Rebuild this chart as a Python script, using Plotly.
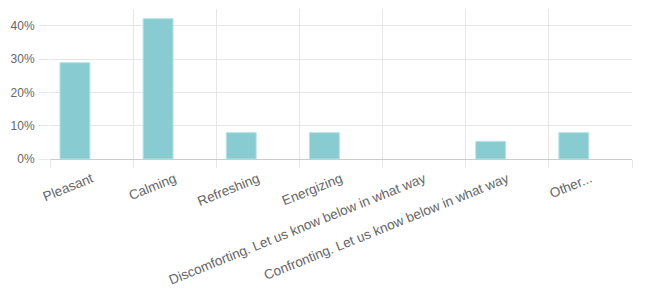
import plotly.graph_objects as go

categories = [
    "Pleasant",
    "Calming",
    "Refreshing",
    "Energizing",
    "Discomforting. Let us know below in what way",
    "Confronting. Let us know below in what way",
    "Other...",
]
values = [0.289, 0.421, 0.079, 0.079, 0.0, 0.053, 0.079]
y_ticks = [0, 0.1, 0.2, 0.3, 0.4]
y_tick_labels = ["0%", "10%", "20%", "30%", "40%"]

fig = go.Figure()
fig.add_trace(go.Bar(
    x=categories,
    y=values,
    width=0.36,
    offset=-0.38,
    marker=dict(
        color="#88ccd1",
        line=dict(color="#b8e3e6", width=[1 if v > 0 else 0 for v in values]),
    ),
    hoverinfo="x+y",
))

fig.update_layout(
    width=645,
    height=305,
    margin=dict(l=50, r=13, t=9, b=146, autoexpand=False),
    paper_bgcolor="white",
    plot_bgcolor="white",
    showlegend=False,
    font=dict(family="Liberation Sans, Arial, sans-serif", size=12, color="#666666"),
    xaxis=dict(
        type="category",
        range=[-0.5, len(categories) - 0.5],
        tickson="boundaries",
        showgrid=True,
        gridcolor="#e6e6e6",
        gridwidth=1,
        ticks="outside",
        ticklen=8,
        tickcolor="#e6e6e6",
        tickangle=-22,
        ticklabelstandoff=6,
        tickfont=dict(size=13.5, color="#666666"),
        showline=True,
        linecolor="#cccccc",
        linewidth=1,
        zeroline=False,
        automargin=False,
    ),
    yaxis=dict(
        range=[0, 0.45],
        tickvals=y_ticks,
        ticktext=y_tick_labels,
        showgrid=True,
        gridcolor="#e6e6e6",
        gridwidth=1,
        zeroline=False,
        showline=False,
        ticks="outside",
        ticklen=10,
        tickcolor="#e6e6e6",
        ticklabelstandoff=2,
        tickfont=dict(size=12, color="#666666"),
        automargin=False,
    ),
)

fig.write_html("out.html")
